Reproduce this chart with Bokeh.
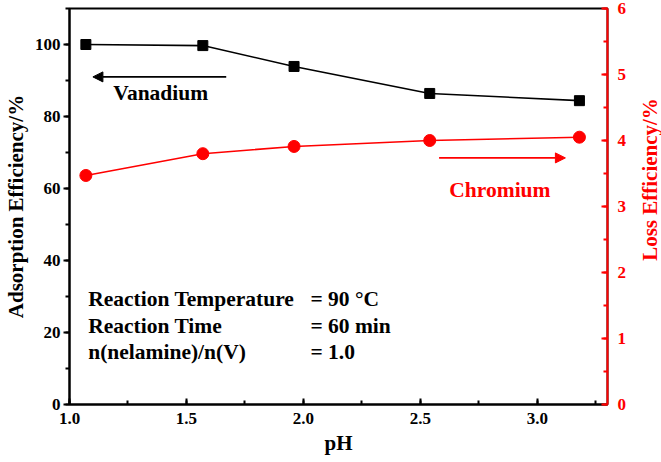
import math
from bokeh.plotting import figure
from bokeh.layouts import row
from bokeh.models import (Range1d, LinearAxis, SingleIntervalTicker, Arrow, NormalHead,
                          Label, NumeralTickFormatter)
from bokeh.embed import file_html
from bokeh.resources import INLINE

# ---- data ----
ph = [1.07, 1.57, 1.96, 2.54, 3.18]
vanadium_adsorption = [100.0, 99.7, 93.9, 86.4, 84.4]
chromium_loss = [3.47, 3.80, 3.91, 4.00, 4.05]

cond_names = ["Reaction Temperature", "Reaction Time", "n(nelamine)/n(V)"]
cond_values = ["= 90 \u00b0C", "= 60 min", "= 1.0"]

FONT = "Liberation Serif"
RED = "#ff0000"
H = 460

p = figure(width=631, height=H, output_backend="svg", toolbar_location=None,
           x_range=Range1d(1.0, 3.3), y_range=Range1d(0, 110),
           min_border_left=66, min_border_right=24, min_border_top=8, min_border_bottom=56)
p.extra_y_ranges = {"loss": Range1d(0, 6)}
p.grid.visible = False
p.outline_line_color = "black"
p.outline_line_width = 2
p.background_fill_color = "white"
p.border_fill_color = "white"

# bottom axis
xa = p.xaxis[0]
xa.ticker = SingleIntervalTicker(interval=0.5, num_minor_ticks=2)
xa.formatter = NumeralTickFormatter(format="0.0")
xa.axis_label = "pH"
xa.major_tick_in = 6
xa.major_tick_out = 0
xa.minor_tick_in = 4
xa.minor_tick_out = 0
xa.major_label_standoff = 8
xa.axis_label_standoff = 4

# left axis
ya = p.yaxis[0]
ya.ticker = SingleIntervalTicker(interval=20, num_minor_ticks=2)
ya.axis_label = "Adsorption Efficiency/%"
ya.major_tick_in = 0
ya.major_tick_out = 6
ya.minor_tick_in = 0
ya.minor_tick_out = 4
ya.major_label_standoff = 3
ya.axis_label_standoff = 4

# right axis (its title sits in a narrow companion figure)
ra = LinearAxis(y_range_name="loss",
                ticker=SingleIntervalTicker(interval=1, num_minor_ticks=2))
ra.major_tick_in = 6
ra.major_tick_out = 0
ra.minor_tick_in = 4
ra.minor_tick_out = 0
ra.major_label_standoff = 10
p.add_layout(ra, "right")

for ax in (xa, ya, ra):
    ax.axis_line_width = 2
    ax.major_tick_line_width = 2
    ax.minor_tick_line_width = 2
    ax.major_label_text_font = FONT
    ax.major_label_text_font_style = "bold"
    ax.major_label_text_font_size = "17px"
    ax.axis_label_text_font = FONT
    ax.axis_label_text_font_style = "bold"
    ax.axis_label_text_font_size = "21px"

for ax in (xa, ya):
    ax.axis_line_color = "black"
    ax.major_tick_line_color = "black"
    ax.minor_tick_line_color = "black"
    ax.major_label_text_color = "black"
    ax.axis_label_text_color = "black"

ra.axis_line_color = RED
ra.major_tick_line_color = RED
ra.minor_tick_line_color = RED
ra.major_label_text_color = RED

# series
p.line(ph, vanadium_adsorption, line_color="black", line_width=1.6)
p.scatter(ph, vanadium_adsorption, marker="square", size=10, fill_color="black", line_color="black")
p.line(ph, chromium_loss, line_color=RED, line_width=1.6, y_range_name="loss")
p.scatter(ph, chromium_loss, marker="circle", size=12, fill_color=RED, line_color=RED,
          y_range_name="loss")

# arrows and labels
V_ARROW = (1.67, 1.10, 91)
C_ARROW = (2.58, 3.12, 68.5)
p.add_layout(Arrow(end=NormalHead(size=10, fill_color="black", line_color="black"),
                   x_start=V_ARROW[0], x_end=V_ARROW[1], y_start=V_ARROW[2], y_end=V_ARROW[2],
                   line_color="black", line_width=1.6))
p.add_layout(Arrow(end=NormalHead(size=10, fill_color=RED, line_color=RED),
                   x_start=C_ARROW[0], x_end=C_ARROW[1], y_start=C_ARROW[2], y_end=C_ARROW[2],
                   line_color=RED, line_width=1.6))

p.add_layout(Label(x=1.39, y=86.6, text="Vanadium", text_font=FONT, text_font_style="bold",
                   text_font_size="21.5px", text_color="black",
                   text_align="center", text_baseline="middle"))
p.add_layout(Label(x=2.84, y=59.6, text="Chromium", text_font=FONT, text_font_style="bold",
                   text_font_size="21.5px", text_color=RED,
                   text_align="center", text_baseline="middle"))

cond_y = [29.4, 21.9, 14.7]
for name, val, yy in zip(cond_names, cond_values, cond_y):
    p.add_layout(Label(x=1.08, y=yy, text=name, text_font=FONT, text_font_style="bold",
                       text_font_size="21.5px", text_color="black", text_baseline="middle"))
    p.add_layout(Label(x=2.03, y=yy, text=val, text_font=FONT, text_font_style="bold",
                       text_font_size="21.5px", text_color="black", text_baseline="middle"))

# narrow companion figure holding the right-axis title (reads bottom to top)
p2 = figure(width=30, height=H, output_backend="svg", toolbar_location=None,
            x_range=Range1d(0, 1), y_range=Range1d(0, 1),
            x_axis_location=None, y_axis_location=None,
            min_border_left=0, min_border_right=0, min_border_top=0, min_border_bottom=0)
p2.grid.visible = False
p2.outline_line_color = None
p2.background_fill_color = "white"
p2.border_fill_color = "white"
p2.add_layout(Label(x=18, y=225, x_units="screen", y_units="screen",
                    text="Loss Efficiency/%", angle=math.pi / 2,
                    text_font=FONT, text_font_style="bold", text_font_size="21px",
                    text_color=RED, text_align="center", text_baseline="middle"))

layout = row(p, p2)
open("out.html", "w").write(file_html(layout, INLINE))
